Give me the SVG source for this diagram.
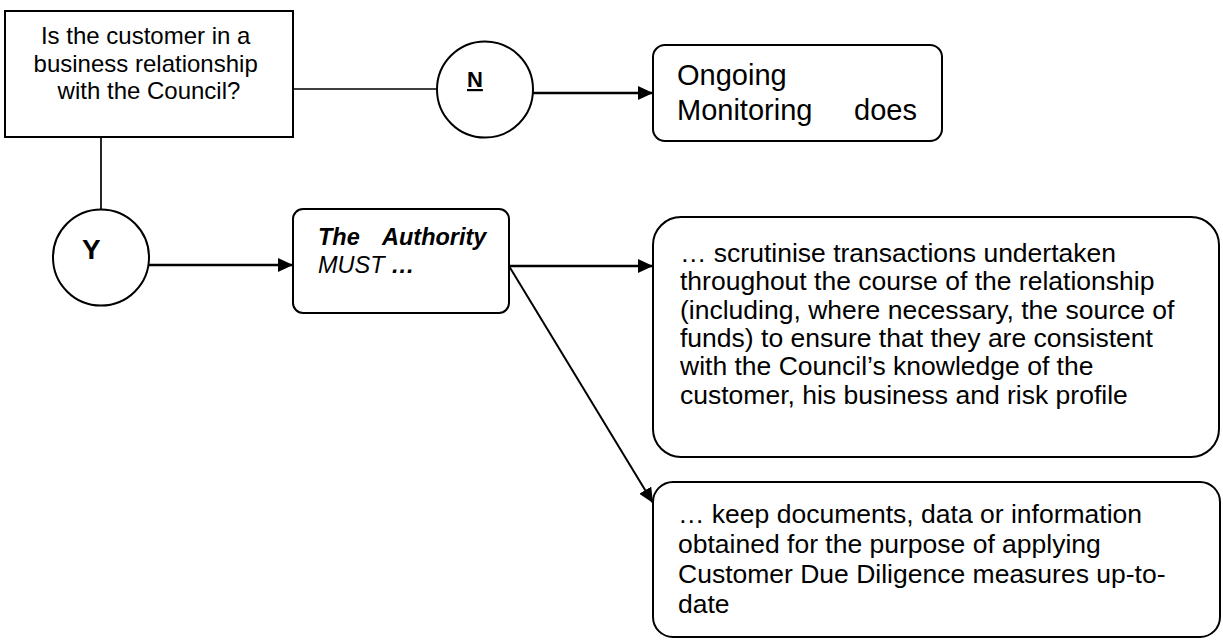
<svg xmlns="http://www.w3.org/2000/svg" width="1223" height="640" viewBox="0 0 1223 640">
  <style>
    .box { fill: #ffffff; stroke: #000000; stroke-width: 2; }
    .t { font-family: "Liberation Sans", Arial, sans-serif; fill: #000000; }
    .line { fill: none; stroke: #000000; stroke-width: 1.7; }
    .arrow { fill: none; stroke: #000000; stroke-width: 2.6; marker-end: url(#ah); }
    .diag { fill: none; stroke: #000000; stroke-width: 2; marker-end: url(#ah); }
  </style>
  <defs>
    <marker id="ah" markerUnits="userSpaceOnUse" markerWidth="16" markerHeight="15" refX="15" refY="7" orient="auto">
      <path d="M0,0 L15,7 L0,14 Z" fill="#000000"/>
    </marker>
  </defs>
  <rect x="0" y="0" width="1223" height="640" fill="#ffffff"/>

  <g id="connectors">
    <line class="line" x1="293" y1="89" x2="437" y2="89"/>
    <line class="arrow" x1="533" y1="93" x2="653" y2="93"/>
    <line class="line" x1="101" y1="137" x2="101" y2="209"/>
    <line class="arrow" x1="149" y1="265" x2="293" y2="265"/>
    <line class="arrow" x1="509" y1="266" x2="653" y2="266"/>
    <line class="diag" x1="509" y1="266" x2="653" y2="503"/>
  </g>

  <g id="question">
    <rect class="box" x="5" y="11" width="288" height="126"/>
    <text class="t" font-size="24" text-anchor="middle">
      <tspan x="149" y="44">Is the customer in a</tspan>
      <tspan x="149" y="72">business relationship</tspan>
      <tspan x="149" y="99">with the Council?</tspan>
    </text>
  </g>

  <g id="no">
    <circle class="box" cx="485" cy="89.5" r="48"/>
    <text class="t" x="467" y="87" font-size="22" font-weight="bold" text-decoration="underline">N</text>
  </g>

  <g id="ongoing">
    <rect class="box" x="653" y="45" width="289" height="96" rx="12" ry="12"/>
    <text class="t" font-size="29">
      <tspan x="677" y="85">Ongoing</tspan>
      <tspan x="677" y="120">Monitoring</tspan>
      <tspan x="917" y="120" text-anchor="end">does</tspan>
    </text>
  </g>

  <g id="yes">
    <circle class="box" cx="101" cy="257.5" r="48"/>
    <text class="t" x="82" y="259" font-size="28" font-weight="bold">Y</text>
  </g>

  <g id="authority">
    <rect class="box" x="293" y="209" width="216" height="104" rx="10" ry="10"/>
    <text class="t" font-size="23.5" font-style="italic">
      <tspan x="318" y="245" font-weight="bold">The</tspan>
      <tspan x="382" y="245" font-weight="bold">Authority</tspan>
      <tspan x="318" y="273">MUST <tspan font-weight="bold">…</tspan></tspan>
    </text>
  </g>

  <g id="scrutinise">
    <rect class="box" x="653" y="217" width="566" height="240" rx="28" ry="28"/>
    <text class="t" font-size="26.5">
      <tspan x="680" y="262">… scrutinise transactions undertaken</tspan>
      <tspan x="680" y="290">throughout the course of the relationship</tspan>
      <tspan x="680" y="318.5">(including, where necessary, the source of</tspan>
      <tspan x="680" y="347">funds) to ensure that they are consistent</tspan>
      <tspan x="680" y="375">with the Council’s knowledge of the</tspan>
      <tspan x="680" y="403.5">customer, his business and risk profile</tspan>
    </text>
  </g>

  <g id="keep">
    <rect class="box" x="653" y="482" width="567" height="155" rx="20" ry="20"/>
    <text class="t" font-size="26.5">
      <tspan x="678" y="523">… keep documents, data or information</tspan>
      <tspan x="678" y="553">obtained for the purpose of applying</tspan>
      <tspan x="678" y="583">Customer Due Diligence measures up-to-</tspan>
      <tspan x="678" y="613">date</tspan>
    </text>
  </g>
</svg>
